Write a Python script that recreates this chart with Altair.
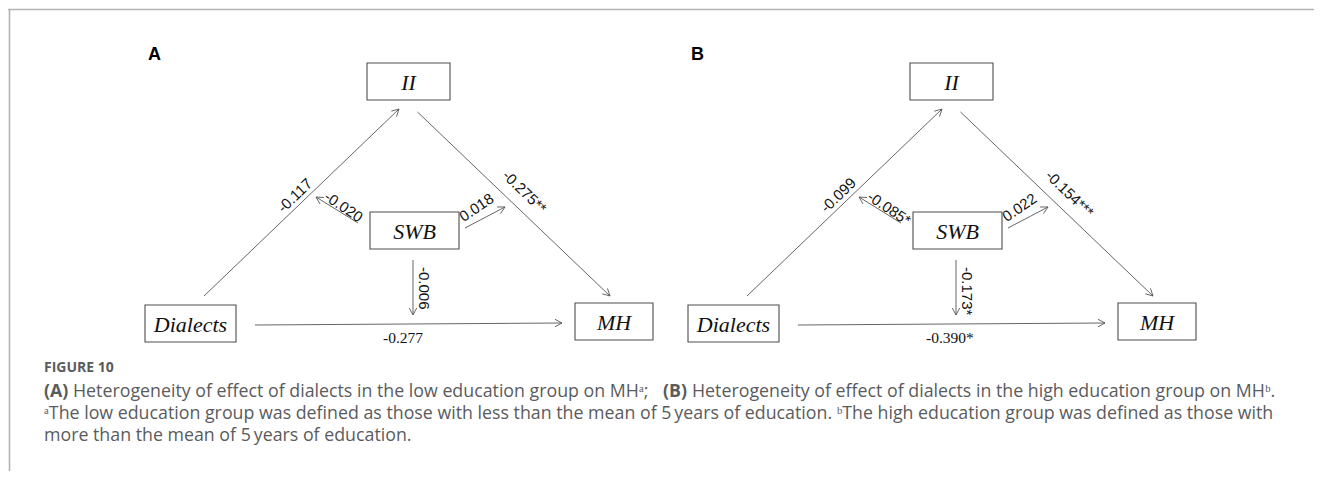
import math
import altair as alt
import pandas as pd

# ---------------- data ----------------
panels = ["A", "B"]
node_names = ["II", "SWB", "Dialects", "MH"]
edge_names = ["Dialects→II", "II→MH", "SWB→left", "SWB→right", "SWB→down", "Dialects→MH"]
coef_A = ["-0.117", "-0.275**", "-0.020", "0.018", "-0.006", "-0.277"]
coef_B = ["-0.099", "-0.154***", "-0.085*", "0.022", "-0.173*", "-0.390*"]
coefs = {"A": coef_A, "B": coef_B}

caption_title = "FIGURE 10"
caption_line2 = [("(A)", "bold"),
                 ("Heterogeneity of effect of dialects in the low education group on MHᵃ;", "normal"),
                 ("(B)", "bold"),
                 ("Heterogeneity of effect of dialects in the high education group on MHᵇ.", "normal")]
caption_line3 = ("ᵃThe low education group was defined as those with less than the mean of 5\u2009years "
                 "of education. ᵇThe high education group was defined as those with")
caption_line4 = "more than the mean of 5\u2009years of education."

# ---------------- layout (pixel space of the drawing) ----------------
W, H = 1306, 463
PANEL_DX = {"A": 0, "B": 543}
PANEL_LABEL_POS = (140, 47)
NODE_BOX = {  # x0, x1, y0, y1
    "II": (359, 442, 55, 92),
    "SWB": (362, 451, 204, 241),
    "Dialects": (137, 228, 297, 334),
    "MH": (567, 645, 295, 332),
}
EDGE_PTS = {  # start -> end
    "Dialects→II": (196, 288, 391, 101),
    "II→MH": (409.5, 104, 602, 288),
    "SWB→left": (350, 215, 308, 189),
    "SWB→right": (457, 220, 497, 199),
    "SWB→down": (405, 252, 405, 307),
    "Dialects→MH": (247, 317, 554, 315),
}
LABEL_POS = {  # x, y, angle, font
    "Dialects→II": (272, 202, 316, "sans"),
    "II→MH": (497, 165, 44, "sans"),
    "SWB→left": (318, 187, 34, "sans"),
    "SWB→right": (453, 210, 326, "sans"),
    "SWB→down": (416, 259, 90, "sans"),
    "Dialects→MH": (375, 330, 0, "serif"),
}
HEAD_LEN, HEAD_ANG = 8, 28

boxes, edges, heads, labels, plabels = [], [], [], [], []
for p in panels:
    dx = PANEL_DX[p]
    plabels.append({"x": PANEL_LABEL_POS[0] + dx, "y": PANEL_LABEL_POS[1], "t": p})
    for n in node_names:
        x0, x1, y0, y1 = NODE_BOX[n]
        boxes.append({"x0": x0 + dx, "x1": x1 + dx, "y0": y0, "y1": y1,
                      "cx": (x0 + x1) / 2 + dx, "cy": (y0 + y1) / 2, "t": n})
    for i, e in enumerate(edge_names):
        sx, sy, ex, ey = EDGE_PTS[e]
        edges.append({"x0": sx + dx, "y0": sy, "x1": ex + dx, "y1": ey})
        ang = math.atan2(ey - sy, ex - sx)
        for s in (-1, 1):
            a = ang + math.pi + s * math.radians(HEAD_ANG)
            heads.append({"x0": ex + dx, "y0": ey,
                          "x1": ex + dx + HEAD_LEN * math.cos(a), "y1": ey + HEAD_LEN * math.sin(a)})
        lx, ly, la, lf = LABEL_POS[e]
        labels.append({"x": lx + dx, "y": ly, "ang": la % 360, "t": coefs[p][i], "f": lf})

X = lambda f: alt.X(f, type="quantitative", scale=alt.Scale(domain=[0, W]), axis=None)
Y = lambda f: alt.Y(f, type="quantitative", scale=alt.Scale(domain=[0, H], reverse=True), axis=None)

frame = pd.DataFrame([{"x0": -2, "y0": 1.5, "x1": W, "y1": 1.5},
                      {"x0": 1.5, "y0": 1.5, "x1": 1.5, "y1": H}])
frame_layer = alt.Chart(frame).mark_rule(color="#b3b3b3", strokeWidth=1.6).encode(
    x=X("x0"), y=Y("y0"), x2="x1", y2="y1")

edge_layer = alt.Chart(pd.DataFrame(edges)).mark_rule(color="#555555", strokeWidth=0.9).encode(
    x=X("x0"), y=Y("y0"), x2="x1", y2="y1")
head_layer = alt.Chart(pd.DataFrame(heads)).mark_rule(color="#555555", strokeWidth=0.9).encode(
    x=X("x0"), y=Y("y0"), x2="x1", y2="y1")

box_layer = alt.Chart(pd.DataFrame(boxes)).mark_rect(
    fill="white", stroke="#4d4d4d", strokeWidth=1.1).encode(
    x=X("x0"), x2="x1", y=Y("y0"), y2="y1")
box_text = alt.Chart(pd.DataFrame(boxes)).mark_text(
    font="Liberation Serif", fontStyle="italic", fontSize=22, color="#111111",
    align="center", baseline="middle", dy=1).encode(x=X("cx"), y=Y("cy"), text="t:N")

lab_df = pd.DataFrame(labels)
sans_text = alt.Chart(lab_df[lab_df.f == "sans"]).mark_text(
    font="Liberation Sans", fontSize=15, color="#111111", align="left", baseline="middle").encode(
    x=X("x"), y=Y("y"), text="t:N", angle=alt.Angle("ang:Q", scale=None))
serif_text = alt.Chart(lab_df[lab_df.f == "serif"]).mark_text(
    font="Liberation Serif", fontSize=15.5, color="#111111", align="left", baseline="middle").encode(
    x=X("x"), y=Y("y"), text="t:N")

plabel_layer = alt.Chart(pd.DataFrame(plabels)).mark_text(
    font="Liberation Sans", fontWeight="bold", fontSize=18, color="#000000",
    align="left", baseline="middle").encode(x=X("x"), y=Y("y"), text="t:N")

# caption
CAP_X = 36
FS = 17.8
cap_rows = [
    {"x": CAP_X, "y": 360, "t": caption_title, "w": "bold", "s": 14.0},
    {"x": CAP_X, "y": 384, "t": caption_line2[0][0], "w": "bold", "s": FS},
    {"x": CAP_X + 29, "y": 384, "t": caption_line2[1][0], "w": "normal", "s": FS},
    {"x": 655, "y": 384, "t": caption_line2[2][0], "w": "bold", "s": FS},
    {"x": 684, "y": 384, "t": caption_line2[3][0], "w": "normal", "s": FS},
    {"x": CAP_X, "y": 406, "t": caption_line3, "w": "normal", "s": FS},
    {"x": CAP_X, "y": 428, "t": caption_line4, "w": "normal", "s": FS},
]
cap_df = pd.DataFrame(cap_rows)
cap_layers = []
for w in ["bold", "normal"]:
    for s in sorted(cap_df.s.unique()):
        sub = cap_df[(cap_df.w == w) & (cap_df.s == s)]
        if len(sub) == 0:
            continue
        cap_layers.append(alt.Chart(sub).mark_text(
            font="Open Sans", fontWeight=w, fontSize=float(s), color="#5a5b5d",
            align="left", baseline="middle").encode(x=X("x"), y=Y("y"), text="t:N"))

chart = alt.layer(frame_layer, edge_layer, head_layer, box_layer, box_text,
                  sans_text, serif_text, plabel_layer, *cap_layers).properties(
    width=W, height=H, padding=0, autosize=alt.AutoSizeParams(type="none")
).configure_view(stroke=None)

chart.save("out.html", embed_options={"renderer": "svg", "actions": False})
